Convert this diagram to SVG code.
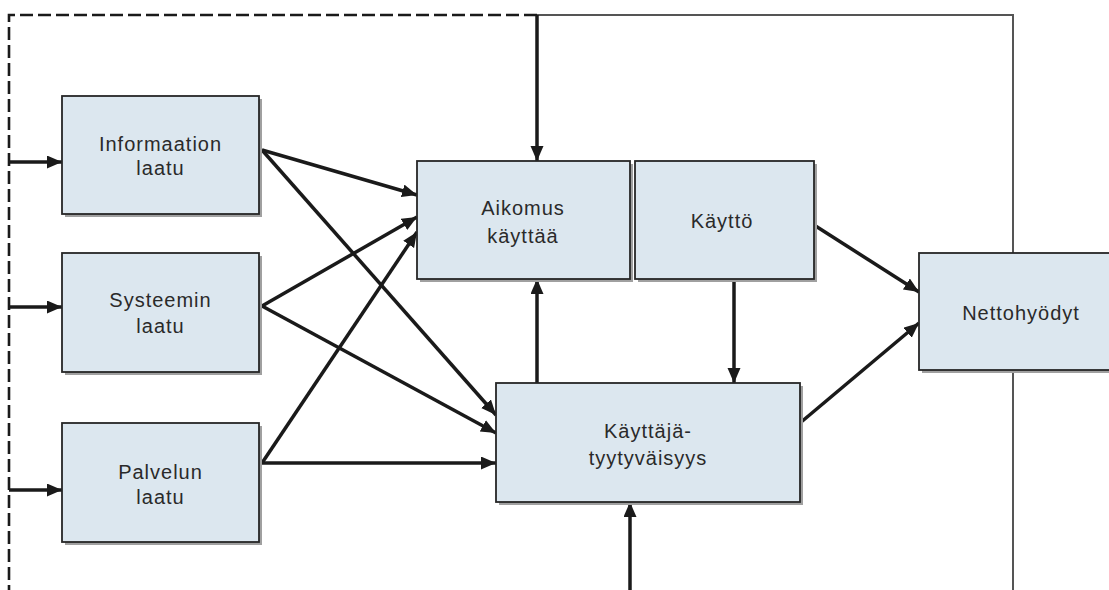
<svg xmlns="http://www.w3.org/2000/svg" width="1109" height="590" viewBox="0 0 1109 590">
<defs>
<style>
.box{fill:#dce7ef;stroke:#262626;stroke-width:1.8}
.sh{fill:#a0a0a0}
.t{font-family:"Liberation Sans",Arial,sans-serif;font-size:20px;fill:#2a2a2a;text-anchor:middle;letter-spacing:1px}
.c{fill:none;stroke:#1a1a1a;stroke-width:3.5}
.thin{fill:none;stroke:#555;stroke-width:2}
.dash{fill:none;stroke:#1a1a1a;stroke-width:2.6;stroke-dasharray:13 5}
</style>
<marker id="ah" markerUnits="userSpaceOnUse" markerWidth="18" markerHeight="14" refX="15" refY="6.5" orient="auto">
<path d="M0,0 L15,6.5 L0,13 Z" fill="#1a1a1a"/>
</marker>
</defs>
<rect width="1109" height="590" fill="#fff"/>
<g id="connectors">
<path class="dash" d="M537,15 H9 V590"/>
<path class="thin" d="M537,15 H1013 V590"/>
<path class="c" d="M537,15 V161" marker-end="url(#ah)"/>
<path class="c" d="M9,162 H62" marker-end="url(#ah)"/>
<path class="c" d="M9,307 H62" marker-end="url(#ah)"/>
<path class="c" d="M9,490 H62" marker-end="url(#ah)"/>
<path class="c" d="M262,150 L417,195" marker-end="url(#ah)"/>
<path class="c" d="M262,150 L496,415" marker-end="url(#ah)"/>
<path class="c" d="M262,306 L417,217" marker-end="url(#ah)"/>
<path class="c" d="M262,306 L496,433" marker-end="url(#ah)"/>
<path class="c" d="M262,463 L417,232" marker-end="url(#ah)"/>
<path class="c" d="M262,463 H496" marker-end="url(#ah)"/>
<path class="c" d="M537,383 V279" marker-end="url(#ah)"/>
<path class="c" d="M734,279 V383" marker-end="url(#ah)"/>
<path class="c" d="M814,225 L919,292" marker-end="url(#ah)"/>
<path class="c" d="M800,423 L919,323" marker-end="url(#ah)"/>
<path class="c" d="M630,590 V502" marker-end="url(#ah)"/>
</g>
<g id="informaation">
<rect class="sh" x="65" y="99" width="197" height="118"/>
<rect class="box" x="62" y="96" width="197" height="118"/>
<text class="t" x="160.5" y="151">Informaation</text>
<text class="t" x="160.5" y="175">laatu</text>
</g>
<g id="systeemin">
<rect class="sh" x="65" y="256" width="197" height="119"/>
<rect class="box" x="62" y="253" width="197" height="119"/>
<text class="t" x="160.5" y="307">Systeemin</text>
<text class="t" x="160.5" y="333">laatu</text>
</g>
<g id="palvelun">
<rect class="sh" x="65" y="426" width="197" height="119"/>
<rect class="box" x="62" y="423" width="197" height="119"/>
<text class="t" x="160.5" y="479">Palvelun</text>
<text class="t" x="160.5" y="504">laatu</text>
</g>
<g id="aikomus">
<rect class="sh" x="420" y="164" width="213" height="118"/>
<rect class="box" x="417" y="161" width="213" height="118"/>
<text class="t" x="523" y="215">Aikomus</text>
<text class="t" x="523" y="243">käyttää</text>
</g>
<g id="kaytto">
<rect class="sh" x="638" y="164" width="179" height="118"/>
<rect class="box" x="635" y="161" width="179" height="118"/>
<text class="t" x="722" y="228">Käyttö</text>
</g>
<g id="kayttajatyytyvaisyys">
<rect class="sh" x="499" y="386" width="304" height="119"/>
<rect class="box" x="496" y="383" width="304" height="119"/>
<text class="t" x="648" y="438">Käyttäjä-</text>
<text class="t" x="648" y="465">tyytyväisyys</text>
</g>
<g id="nettohyodyt">
<rect class="sh" x="922" y="256" width="210" height="117"/>
<rect class="box" x="919" y="253" width="210" height="117"/>
<text class="t" x="1021" y="320">Nettohyödyt</text>
</g>
</svg>
